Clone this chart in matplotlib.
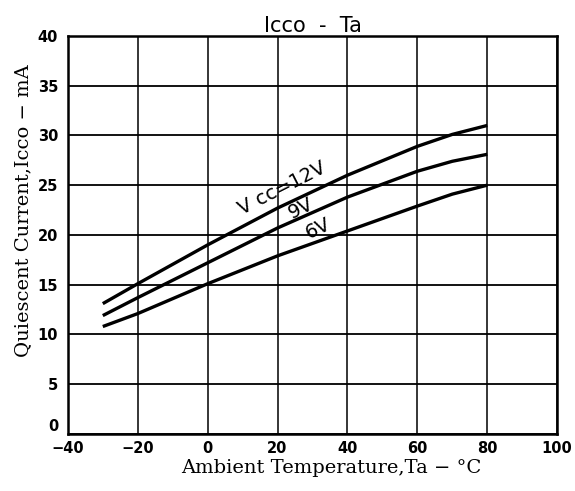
import matplotlib
matplotlib.use("Agg")
import matplotlib.pyplot as plt

ta = [-30, -20, 0, 20, 40, 60, 70, 80]
i_12v = [13.1, 15.1, 19.0, 22.7, 26.0, 28.9, 30.1, 31.0]
i_9v = [11.9, 13.7, 17.2, 20.7, 23.8, 26.4, 27.4, 28.1]
i_6v = [10.8, 12.1, 15.1, 17.9, 20.4, 22.9, 24.1, 25.0]
xticks = [-40, -20, 0, 20, 40, 60, 80, 100]
xtick_labels = ["\u221240", "\u221220", "0", "20", "40", "60", "80", "100"]
yticks = [0, 5, 10, 15, 20, 25, 30, 35, 40]

fig = plt.figure(figsize=(5.75, 4.91), dpi=100)
ax = fig.add_axes([0.118, 0.116, 0.851, 0.811])
for y in yticks:
    ax.axhline(y, color="black", lw=1.3, zorder=1)
for x in xticks:
    ax.axvline(x, color="black", lw=1.1, zorder=1)
for s in [i_12v, i_9v, i_6v]:
    ax.plot(ta, s, color="black", lw=2.4, solid_capstyle="butt", zorder=3)

ax.set_xlim(-40, 100)
ax.set_ylim(0, 40)
ax.set_xticks(xticks)
ax.set_xticklabels(xtick_labels)
ax.set_yticks(yticks)
ax.tick_params(length=0, labelsize=10.5, pad=5)
ax.tick_params(axis="y", pad=7)
for lab in ax.get_xticklabels() + ax.get_yticklabels():
    lab.set_fontweight("bold")
ylabs = ax.get_yticklabels()
ylabs[0].set_verticalalignment("bottom")
for sp in ax.spines.values():
    sp.set_linewidth(1.8)

ax.text(9.8, 22.0, "V cc=12V", rotation=27, fontsize=14, ha="left", va="baseline",
        rotation_mode="anchor", zorder=4)
ax.text(24.0, 21.6, "9V", rotation=26, fontsize=14, ha="left", va="baseline",
        rotation_mode="anchor", zorder=4)
ax.text(28.8, 19.6, "6V", rotation=25, fontsize=14, ha="left", va="baseline",
        rotation_mode="anchor", zorder=4)

ax.set_title("Icco  -  Ta", fontsize=15, pad=3)
ax.set_xlabel("Ambient Temperature,Ta \u2212 \u00b0C", family="DejaVu Serif", fontsize=14)
ax.xaxis.set_label_coords(0.538, -0.063)
ax.set_ylabel("Quiescent Current,Icco \u2212 mA", family="DejaVu Serif", fontsize=14)
ax.yaxis.set_label_coords(-0.072, 0.56)
fig.savefig("out.png", dpi=100)
